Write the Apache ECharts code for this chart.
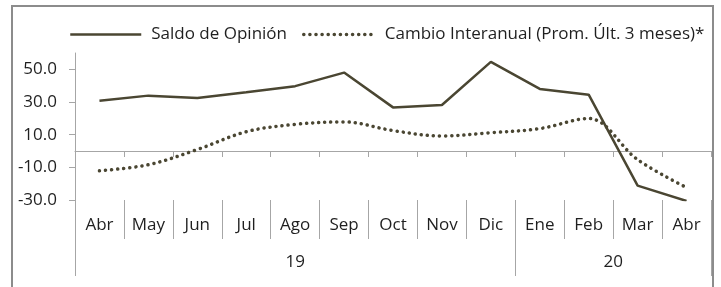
<!DOCTYPE html>
<html>
<head>
<meta charset="utf-8">
<script src="https://cdn.jsdelivr.net/npm/echarts@6/dist/echarts.min.js"></script>
<style>
  body { margin: 0; background: #fff; }
  #main { width: 721px; height: 287px; }
</style>
</head>
<body>
<div id="main"></div>
<script>
// datos
var meses = ['Abr', 'May', 'Jun', 'Jul', 'Ago', 'Sep', 'Oct', 'Nov', 'Dic', 'Ene', 'Feb', 'Mar', 'Abr'];
var anios = ['19', '20'];
var aniosCentro = [4.5, 11];
var aniosCortes = [0, 9, 13];
var saldoOpinion = [30.8, 33.9, 32.5, 36.0, 39.7, 48.0, 26.7, 28.2, 54.6, 38.0, 34.5, -21.2, -30.6];
var cambioInteranual = [-12.1, -8.4, 0.9, 11.8, 16.3, 17.8, 12.5, 9.2, 11.2, 13.7, 19.9, -5.3, -22.4];
var yTicks = [-30, -10, 10, 30, 50];

var colorLinea = '#4a4632';
var colorEje = '#a6a6a6';
var colorTexto = '#1f1f1f';
var fuente = 'Open Sans';
var tamFuente = 17;

var myChart = echarts.init(document.getElementById('main'));

var option = {
    animation: false,
    textStyle: { fontFamily: fuente },
    graphic: [{
        type: 'rect',
        shape: { x: 12, y: 6, width: 701, height: 300 },
        style: { fill: 'none', stroke: '#8c8c8c', lineWidth: 2 },
        silent: true
    }],
    legend: {
        left: 69,
        top: 26,
        padding: 0,
        itemWidth: 71,
        itemHeight: 18,
        itemGap: 15,
        itemStyle: { opacity: 0 },
        textStyle: { fontSize: tamFuente, color: colorTexto, padding: [0, 0, 0, 5] },
        data: [
            { name: 'Saldo de Opinión', lineStyle: { width: 2.5 } },
            { name: 'Cambio Interanual (Prom. Últ. 3 meses)*', lineStyle: { width: 3.5 } }
        ]
    },
    grid: [
        { left: 75, right: 10, top: 53, height: 147 },
        { left: 75, right: 10, top: 199, height: 1 },
        { left: 75, right: 10, top: 199, height: 1 }
    ],
    xAxis: [
        {
            type: 'category',
            gridIndex: 0,
            data: meses,
            boundaryGap: true,
            axisLine: { onZero: true, lineStyle: { color: colorEje, width: 1 } },
            axisTick: { show: true, length: 6, lineStyle: { color: colorEje } },
            axisLabel: { show: false },
            splitLine: { show: false }
        },
        {
            type: 'category',
            gridIndex: 1,
            data: meses,
            boundaryGap: true,
            axisLine: { show: false },
            axisTick: { show: true, interval: 0, length: 39, lineStyle: { color: colorEje } },
            axisLabel: { show: true, interval: 0, margin: 17, fontSize: tamFuente, color: colorTexto },
            splitLine: { show: false }
        },
        {
            type: 'value',
            gridIndex: 2,
            min: 0,
            max: 13,
            axisLine: { show: false },
            axisTick: { show: true, length: 76, customValues: aniosCortes, lineStyle: { color: colorEje } },
            axisLabel: {
                show: true,
                margin: 54,
                fontSize: tamFuente,
                color: colorTexto,
                customValues: aniosCentro,
                formatter: function (v) { return anios[aniosCentro.indexOf(v)]; }
            },
            splitLine: { show: false }
        }
    ],
    yAxis: [
        {
            type: 'value',
            gridIndex: 0,
            min: -30,
            max: 60,
            axisLine: { show: true, lineStyle: { color: colorEje } },
            axisTick: { show: true, length: 6, customValues: yTicks, lineStyle: { color: colorEje } },
            axisLabel: {
                customValues: yTicks,
                margin: 18,
                fontSize: tamFuente,
                color: colorTexto,
                formatter: function (v) { return v.toFixed(1); }
            },
            splitLine: { show: false }
        },
        { type: 'value', gridIndex: 1, show: false },
        { type: 'value', gridIndex: 2, show: false }
    ],
    series: [
        {
            name: 'Saldo de Opinión',
            type: 'line',
            xAxisIndex: 0,
            yAxisIndex: 0,
            data: saldoOpinion,
            symbol: 'none',
            lineStyle: { color: colorLinea, width: 2.5 },
            itemStyle: { color: colorLinea }
        },
        {
            name: 'Cambio Interanual (Prom. Últ. 3 meses)*',
            type: 'line',
            xAxisIndex: 0,
            yAxisIndex: 0,
            data: cambioInteranual,
            symbol: 'none',
            smooth: 0.35,
            lineStyle: { color: colorLinea, width: 3.5, type: [0.1, 6], cap: 'round' },
            itemStyle: { color: colorLinea }
        }
    ]
};

myChart.setOption(option);
</script>
</body>
</html>
